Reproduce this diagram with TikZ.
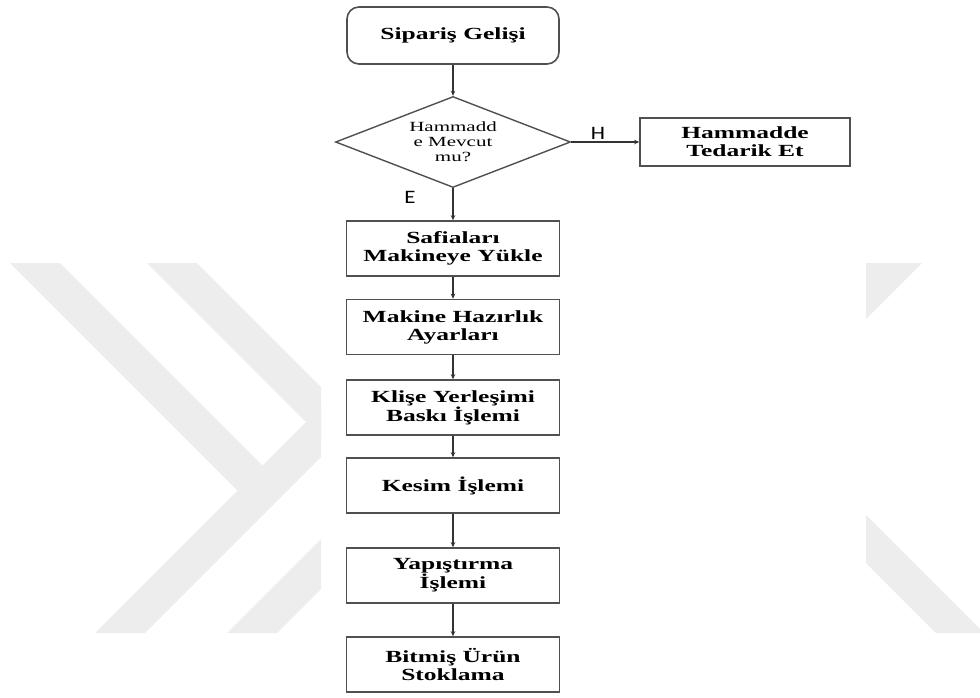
\documentclass[tikz,border=0pt]{standalone}
\usepackage{fontspec}
\setmainfont{Liberation Serif}
\newfontfamily\boxfont{Liberation Serif}[FakeStretch=1.5]
\newfontfamily\yesnofont{Carlito}[FakeStretch=1.2]
\usetikzlibrary{arrows.meta,shapes.geometric}
\definecolor{markgray}{RGB}{237,237,237}
\definecolor{linegray}{RGB}{80,80,80}

\begin{document}
\begin{tikzpicture}[x=1pt,y=-1pt,>={Stealth[length=5pt,width=4.5pt]},
  stepbox/.style={draw=linegray,line width=1.6pt,fill=white,minimum width=213pt,minimum height=55pt,inner sep=0pt,align=center,font=\boxfont\bfseries\fontsize{17}{18}\selectfont},
  startbox/.style={stepbox,rounded corners=12pt,minimum width=212pt,minimum height=57pt},
  askbox/.style={draw=linegray,line width=1.4pt,shape=diamond,aspect=2.6,minimum width=235pt,minimum height=91pt,inner sep=0pt,align=center,font=\boxfont\fontsize{14}{15}\selectfont},
  flow/.style={->,draw=black!80,line width=1.3pt},
  yesno/.style={font=\yesnofont\fontsize{19}{19}\selectfont,inner sep=0pt}]

\useasboundingbox (0,0) rectangle (980,697);

% faint chevrons in the back
\fill[markgray] (10,263) -- (60,263) -- (262.5,465.5) -- (321,407) -- (321,457) -- (145,633) -- (95,633) -- (237.5,490.5) -- cycle;
\fill[markgray] (147,263) -- (197,263) -- (321,387) -- (321,437) -- cycle;
\fill[markgray] (227,633) -- (277,633) -- (321,589) -- (321,539) -- cycle;
\fill[markgray] (866,263) -- (922,263) -- (866,319) -- cycle;
\fill[markgray] (866,515) -- (980,629) -- (980,633) -- (936,633) -- (866,563) -- cycle;

\node[startbox] (start) at (453,35.5) {Sipariş Gelişi};
\node[askbox] (ask) at (453,142) {Hammadd\\e Mevcut\\mu?};
\node[stepbox,minimum width=210pt,minimum height=48pt] (supply) at (745,142) {Hammadde\\Tedarik Et};
\node[stepbox] (load) at (453,248.5) {Safiaları\\Makineye Yükle};
\node[stepbox] (setup) at (453,327) {Makine Hazırlık\\Ayarları};
\node[stepbox] (print) at (453,407.5) {Klişe Yerleşimi\\Baskı İşlemi};
\node[stepbox] (cut) at (453,485.5) {Kesim İşlemi};
\node[stepbox] (glue) at (453,575.5) {Yapıştırma\\İşlemi};
\node[stepbox] (stock) at (453,664.5) {Bitmiş Ürün\\Stoklama};

\foreach \a/\b in {start/ask,ask/supply,ask/load,load/setup,setup/print,print/cut,cut/glue,glue/stock}
  \draw[flow] (\a) -- (\b);

\node[yesno] (no) at (598,133) {H};
\node[yesno] (yes) at (410,197) {E};

\end{tikzpicture}
\end{document}
